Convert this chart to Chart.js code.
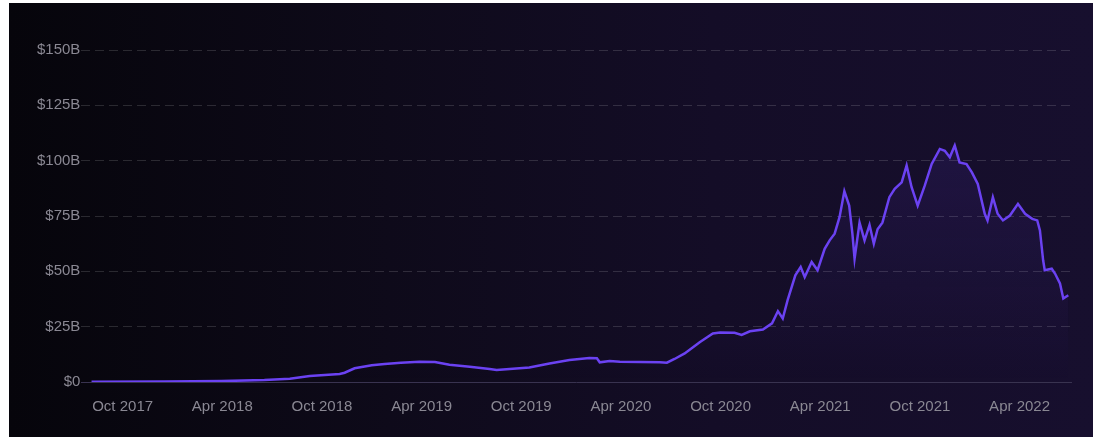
<!DOCTYPE html>
<html>
<head>
<meta charset="utf-8">
<script src="https://cdn.jsdelivr.net/npm/chart.js@4.4.0/dist/chart.umd.min.js"></script>
<style>
    html, body { margin: 0; padding: 0; background: #fff; }
    #wrap {
        position: absolute; left: 9px; top: 3px; width: 1084px; height: 434px;
        background: linear-gradient(90deg, #06050b 0%, #0e0a1a 35%, #140d27 65%, #170f2e 100%);
    }
    canvas { display: block; }
</style>
</head>
<body>
<div id="wrap"><canvas id="tvlChart"></canvas></div>
<script>
// TVL in billions USD
const dates = [
    '2017-08-05', '2017-12-17', '2018-03-30', '2018-06-17', '2018-08-03', '2018-09-09',
    '2018-11-03', '2018-11-12', '2018-11-30', '2019-01-01', '2019-01-25', '2019-02-22',
    '2019-03-28', '2019-04-25', '2019-05-22', '2019-06-28', '2019-08-04', '2019-08-17',
    '2019-09-10', '2019-10-16', '2019-11-22', '2019-12-29', '2020-02-04', '2020-02-17',
    '2020-02-22', '2020-03-11', '2020-03-30', '2020-05-05', '2020-06-11', '2020-06-24',
    '2020-07-08', '2020-07-27', '2020-08-24', '2020-09-17', '2020-09-30', '2020-10-27',
    '2020-11-09', '2020-11-24', '2020-12-18', '2021-01-04', '2021-01-15', '2021-01-24',
    '2021-02-02', '2021-02-15', '2021-02-24', '2021-03-03', '2021-03-16', '2021-03-27',
    '2021-04-09', '2021-04-18', '2021-04-27', '2021-05-06', '2021-05-15', '2021-05-24',
    '2021-05-30', '2021-06-03', '2021-06-12', '2021-06-21', '2021-06-30', '2021-07-08',
    '2021-07-15', '2021-07-24', '2021-08-06', '2021-08-16', '2021-08-29', '2021-09-07',
    '2021-09-16', '2021-09-27', '2021-10-10', '2021-10-23', '2021-11-07', '2021-11-16',
    '2021-11-25', '2021-12-04', '2021-12-13', '2021-12-26', '2022-01-05', '2022-01-16',
    '2022-01-29', '2022-02-03', '2022-02-12', '2022-02-20', '2022-03-01', '2022-03-14',
    '2022-03-29', '2022-04-11', '2022-04-24', '2022-05-03', '2022-05-08', '2022-05-14',
    '2022-05-17', '2022-05-30', '2022-06-05', '2022-06-14', '2022-06-20', '2022-06-29'
];
const tvl = [
    0.1, 0.2, 0.4, 0.9, 1.5, 2.7,
    3.6, 4.2, 6.2, 7.6, 8.1, 8.7,
    9.1, 9.0, 7.8, 6.9, 5.9, 5.4,
    5.9, 6.6, 8.4, 9.9, 10.8, 10.7,
    8.9, 9.5, 9.1, 9.0, 8.9, 8.7,
    10.4, 12.9, 18.0, 21.9, 22.4, 22.2,
    21.3, 22.9, 23.7, 26.5, 32.0, 28.7,
    37.0, 48.2, 52.0, 47.4, 54.2, 50.5,
    60.2, 64.0, 67.0, 74.5, 86.2, 79.7,
    67.0, 55.7, 72.0, 64.0, 71.0, 62.5,
    69.0, 72.0, 83.5, 87.3, 90.2, 97.8,
    88.0, 79.7, 88.7, 98.5, 105.3, 104.5,
    101.5, 106.8, 99.2, 98.5, 94.7, 89.5,
    76.0, 73.0, 83.5, 76.0, 73.0, 75.2,
    80.5, 76.0, 73.7, 73.0, 68.5, 55.0,
    50.5, 51.2, 49.0, 44.5, 37.7, 39.2
];

const tickDates = ['2017-10-01', '2018-04-01', '2018-10-01', '2019-04-01', '2019-10-01',
    '2020-04-01', '2020-10-01', '2021-04-01', '2021-10-01', '2022-04-01'];
const tickLabels = ['Oct 2017', 'Apr 2018', 'Oct 2018', 'Apr 2019', 'Oct 2019',
    'Apr 2020', 'Oct 2020', 'Apr 2021', 'Oct 2021', 'Apr 2022'];

// дата -> месяцы от января 2017 (дробные)
function toMonths(d) {
    const [y, m, day] = d.split('-').map(Number);
    const dim = new Date(y, m, 0).getDate();
    return (y - 2017) * 12 + (m - 1) + (day - 1) / dim;
}

const points = dates.map((d, i) => ({ x: toMonths(d), y: tvl[i] }));
const lineColor = '#6b42f2';
const labelColor = '#8a8893';

const ctx = document.getElementById('tvlChart').getContext('2d');
new Chart(ctx, {
    type: 'line',
    data: {
        datasets: [{
            data: points,
            borderColor: lineColor,
            borderWidth: 2.5,
            pointRadius: 0,
            tension: 0,
            fill: 'origin',
            backgroundColor: function(c) {
                const area = c.chart.chartArea;
                if (!area) return 'transparent';
                const g = c.chart.ctx.createLinearGradient(0, area.top + 60, 0, area.bottom);
                g.addColorStop(0, 'rgba(108, 69, 240, 0.13)');
                g.addColorStop(1, 'rgba(108, 69, 240, 0)');
                return g;
            }
        }]
    },
    options: {
        responsive: true,
        maintainAspectRatio: false,
        animation: false,
        layout: { padding: { left: 27, right: 22, top: 47, bottom: 5 } },
        plugins: {
            legend: { display: false },
            tooltip: { enabled: false }
        },
        scales: {
            x: {
                type: 'linear',
                min: toMonths('2017-07-17'),
                max: toMonths('2022-07-04'),
                afterBuildTicks: function(axis) {
                    axis.ticks = tickDates.map(d => ({ value: toMonths(d) }));
                },
                grid: { display: false, drawTicks: false },
                border: { display: true, color: '#393350', width: 1 },
                ticks: {
                    color: labelColor,
                    font: { family: 'Liberation Sans, Arial, sans-serif', size: 15 },
                    padding: 16,
                    maxRotation: 0,
                    autoSkip: false,
                    callback: function(value, index) { return tickLabels[index]; }
                }
            },
            y: {
                min: 0,
                max: 150,
                grid: {
                    drawTicks: false,
                    color: c => c.tick && c.tick.value === 0 ? 'transparent' : 'rgba(255, 255, 255, 0.14)'
                },
                border: { display: false, dash: [9, 5] },
                ticks: {
                    stepSize: 25,
                    color: labelColor,
                    padding: 1,
                    font: { family: 'Liberation Sans, Arial, sans-serif', size: 15 },
                    callback: v => v === 0 ? '$0' : '$' + v + 'B'
                }
            }
        }
    }
});
</script>
</body>
</html>
